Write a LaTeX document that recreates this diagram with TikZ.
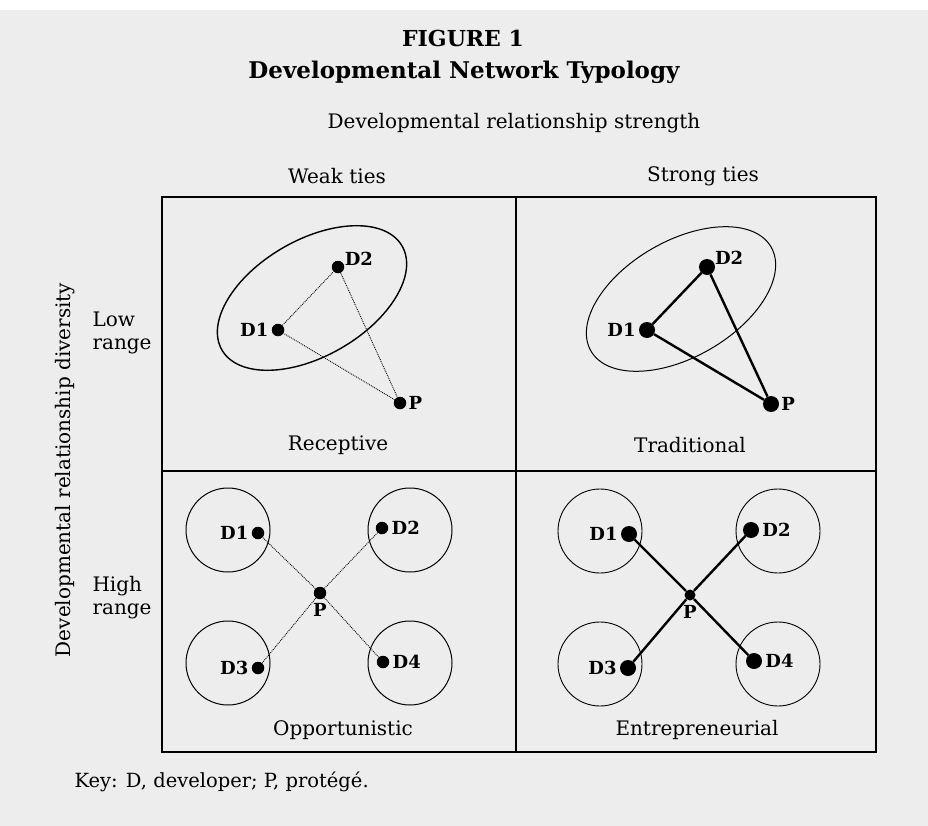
\documentclass[tikz,border=0pt]{standalone}
\usepackage{fontspec}
\setmainfont{DejaVu Serif}
\usetikzlibrary{positioning,shapes.geometric}
\tikzset{
  dot/.style={circle,fill=black,inner sep=0pt,minimum size=12.5pt},
  bigdot/.style={dot,minimum size=16pt},
  lbl/.style={font=\fontsize{18}{18}\selectfont\bfseries,inner sep=1pt},
  weak/.style={densely dotted,line width=0.9pt},
  strong/.style={line width=2.4pt},
  grp/.style={draw,ellipse,line width=1.4pt,minimum width=208pt,minimum height=116pt,rotate=30},
  cell/.style={draw,circle,line width=1pt,minimum size=84pt},
  txt/.style={font=\fontsize{20}{23}\selectfont}
}
\begin{document}
\begin{tikzpicture}[x=1pt,y=-1pt]
  \fill[black!7] (0,10) rectangle (928,826);
  \useasboundingbox (0,0) rectangle (928,826);
  \node[font=\fontsize{22}{22}\selectfont\bfseries] (fig) at (463,38) {FIGURE 1};
  \node[font=\fontsize{23}{23}\selectfont\bfseries] (title) at (464,72) {Developmental Network Typology};
  \node[txt] (xaxis) at (514,123) {Developmental relationship strength};
  \node[txt] (weak) at (337,176) {Weak ties};
  \node[txt] (strong) at (703,176) {Strong ties};
  \node[txt,rotate=90] (yaxis) at (65,470) {Developmental relationship diversity};
  \node[txt,align=left,anchor=west] (low) at (89,333) {Low\\range};
  \node[txt,align=left,anchor=west] (high) at (89,598) {High\\range};
  \draw[line width=1.2pt] (162,197) rectangle (876,752);
  \draw[line width=1.2pt] (516,197) -- (516,752) (162,471) -- (876,471);
  \node[txt] (rec) at (338,445) {Receptive};
  \node[txt] (trad) at (690,445) {Traditional};
  \node[txt] (opp) at (343,730) {Opportunistic};
  \node[txt] (ent) at (697,730) {Entrepreneurial};
  \node[font=\fontsize{19.5}{20}\selectfont,anchor=west] (key) at (71,782) {Key: D, developer; P, protégé.};
  \node[grp] (ra) at (312,298) {};
  \node[dot] (ra1) at (278,330) {};
  \node[dot] (ra2) at (338,267) {};
  \node[dot] (rap) at (400,403) {};
  \node[lbl,left=2pt of ra1] {D1};
  \node[lbl,above right=-4pt and 1pt of ra2] {D2};
  \node[lbl,right=1pt of rap] {P};
  \draw[weak] (ra1) -- (ra2) -- (rap) -- (ra1);
  \node[grp,line width=1pt] (ta) at (681,299) {};
  \node[bigdot] (ta1) at (647,330) {};
  \node[bigdot] (ta2) at (707,267) {};
  \node[bigdot] (tap) at (771,404) {};
  \node[lbl,left=2pt of ta1] {D1};
  \node[lbl,above right=-4pt and 1pt of ta2] {D2};
  \node[lbl,right=1pt of tap] {P};
  \draw[strong] (ta1) -- (ta2) -- (tap) -- (ta1);
  \foreach \n/\x/\y in {1/228/530,2/410/530,3/228/663,4/410/663}
    \node[cell] (oc\n) at (\x,\y) {};
  \node[dot] (o1) at (258,533) {};
  \node[dot] (o2) at (382,528) {};
  \node[dot] (o3) at (258,668) {};
  \node[dot] (o4) at (383,662) {};
  \node[dot] (op) at (320,593) {};
  \node[lbl,left=2pt of o1] {D1};
  \node[lbl,right=2pt of o2] {D2};
  \node[lbl,left=2pt of o3] {D3};
  \node[lbl,right=2pt of o4] {D4};
  \node[lbl,below=3pt of op] {P};
  \foreach \n in {1,...,4} \draw[weak] (op) -- (o\n);
  \foreach \n/\x/\y in {1/600/531,2/778/531,3/600/664,4/778/664}
    \node[cell,line width=0.9pt] (ec\n) at (\x,\y) {};
  \node[bigdot] (e1) at (629,534) {};
  \node[bigdot] (e2) at (751,530) {};
  \node[bigdot] (e3) at (628,668) {};
  \node[bigdot] (e4) at (754,661) {};
  \node[dot,minimum size=11pt] (ep) at (690,595) {};
  \node[lbl,left=2pt of e1] {D1};
  \node[lbl,right=2pt of e2] {D2};
  \node[lbl,left=2pt of e3] {D3};
  \node[lbl,right=2pt of e4] {D4};
  \node[lbl,below=3pt of ep] {P};
  \foreach \n in {1,...,4} \draw[strong] (ep) -- (e\n);
\end{tikzpicture}
\end{document}
